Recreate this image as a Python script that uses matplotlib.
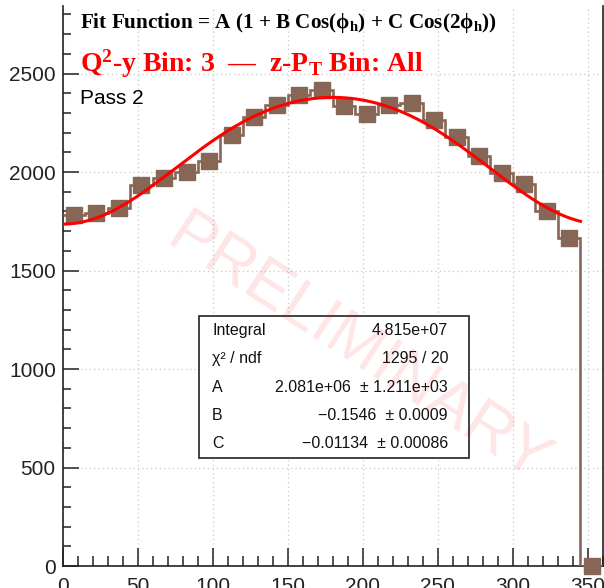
import numpy as np
import matplotlib
matplotlib.use("Agg")
import matplotlib.pyplot as plt
from matplotlib.patches import Rectangle
from matplotlib.ticker import MultipleLocator

# ---- data -------------------------------------------------------------
bin_edges = np.arange(0, 361, 15)          # phi_h bins, 15 degrees wide
counts = [1781, 1793, 1815, 1933, 1972, 2001, 2058, 2190,
          2279, 2342, 2389, 2418, 2333, 2294, 2340, 2350,
          2266, 2176, 2084, 1996, 1937, 1800, 1667, 0]

# fit parameters (as reported in the stats box)
fit_A, fit_A_err = 2.081e6, 1.211e3
fit_B, fit_B_err = -0.1546, 0.0009
fit_C, fit_C_err = -0.01134, 0.00086
fit_integral = 4.815e7
fit_chi2, fit_ndf = 1295, 20
count_scale = 1.0e3                        # A is quoted per 1000 counts
fit_range = (0.0, 345.0)

x_ticks = [0, 50, 100, 150, 200, 250, 300, 350]
y_ticks = [0, 500, 1000, 1500, 2000, 2500]

# ---- style ------------------------------------------------------------
W, H = 604, 588
plt.rcParams["font.family"] = ["Liberation Sans", "DejaVu Sans"]
plt.rcParams["mathtext.fontset"] = "custom"
plt.rcParams["mathtext.rm"] = "Liberation Serif:bold"
plt.rcParams["mathtext.it"] = "Liberation Serif:bold"
plt.rcParams["mathtext.bf"] = "Liberation Serif:bold"
plt.rcParams["mathtext.default"] = "regular"

hist_color = "#886655"


def fpos(x, y):
    """pixel position (from top-left) -> figure fraction"""
    return x / W, 1 - y / H


fig = plt.figure(figsize=(W / 100, H / 100), dpi=100)
ax_left, ax_right, ax_top, ax_bottom = 62.7, 603.0, 6.0, 566.0
ax = fig.add_axes([ax_left / W, 1 - ax_bottom / H,
                   (ax_right - ax_left) / W, (ax_bottom - ax_top) / H])

centers = 0.5 * (bin_edges[:-1] + bin_edges[1:])
ax.stairs(counts, bin_edges, baseline=None, color=hist_color, lw=1.9, zorder=3)
ax.plot(centers, counts, ls="none", marker="s", ms=11, color=hist_color,
        mec=hist_color, zorder=4, clip_on=False)

phi = np.linspace(fit_range[0], fit_range[1], 400)
rad = np.deg2rad(phi)
fit_curve = fit_A / count_scale * (1 + fit_B * np.cos(rad) + fit_C * np.cos(2 * rad))
ax.plot(phi, fit_curve, color="red", lw=2.2, zorder=5)

ax.set_xlim(0, 360)
ax.set_ylim(0, 2843)
ax.set_xticks(x_ticks)
ax.set_yticks(y_ticks)
ax.xaxis.set_minor_locator(MultipleLocator(10))
ax.yaxis.set_minor_locator(MultipleLocator(100))
ax.grid(True, which="major", ls=(0, (1, 2.5)), color="#c8c8c8", lw=0.9)
ax.tick_params(axis="both", which="both", direction="in", width=1.1,
               labelsize=15, colors="#222222")
ax.tick_params(axis="x", which="major", length=13, pad=8)
ax.tick_params(axis="x", which="minor", length=7.5)
ax.tick_params(axis="y", which="major", length=11.5, pad=5)
ax.tick_params(axis="y", which="minor", length=6)
ax.tick_params(right=False, top=False)
ax.spines["top"].set_visible(False)
for s in ("left", "bottom", "right"):
    ax.spines[s].set_linewidth(1.2)
    ax.spines[s].set_color("#222222")

# ---- titles -----------------------------------------------------------
fig.text(*fpos(80, 28),
         r"Fit Function = A (1 + B Cos($\phi_{h}$) + C Cos(2$\phi_{h}$))",
         fontsize=15.2, family="Liberation Serif", weight="bold",
         va="baseline", ha="left")
fig.text(*fpos(80, 72),
         r"Q$^{2}$-y Bin: 3  —  z-P$_{T}$ Bin: All",
         fontsize=20, family="Liberation Serif", weight="bold", color="red",
         va="baseline", ha="left")
fig.text(*fpos(80, 104), "Pass 2", fontsize=15, va="baseline", ha="left")

# ---- stats box --------------------------------------------------------
bx0, bx1, by0, by1 = 199, 469, 316, 458
x0, y0 = fpos(bx0, by1)
x1, y1 = fpos(bx1, by0)
fig.patches.append(Rectangle((x0, y0), x1 - x0, y1 - y0, transform=fig.transFigure,
                             facecolor="white", edgecolor="#222222", lw=1.2,
                             zorder=6))
rows = [
    ("Integral", f"{fit_integral:.3e}"),
    ("χ² / ndf", f"{fit_chi2} / {fit_ndf}"),
    ("A", f"{fit_A:.3e}  ± {fit_A_err:.3e}"),
    ("B", f"{fit_B:.4f}  ± {fit_B_err:.4f}".replace("-", "\u2212")),
    ("C", f"{fit_C:.5f}  ± {fit_C_err:.5f}".replace("-", "\u2212")),
]
row_h = (by1 - by0) / len(rows)
for i, (lab, val) in enumerate(rows):
    yc = by0 + row_h * (i + 0.5)
    fig.text(*fpos(212, yc), lab, fontsize=11.5, ha="left", va="center",
             color="#111111", zorder=7)
    fig.text(*fpos(448, yc), val, fontsize=11.5, ha="right", va="center",
             color="#111111", zorder=7)

# ---- watermark --------------------------------------------------------
fig.text(*fpos(358, 350), "PRELIMINARY", fontsize=47, rotation=-33,
         rotation_mode="anchor", ha="center", va="center",
         color="red", alpha=0.1, zorder=10)

fig.savefig("out.png", dpi=100)
